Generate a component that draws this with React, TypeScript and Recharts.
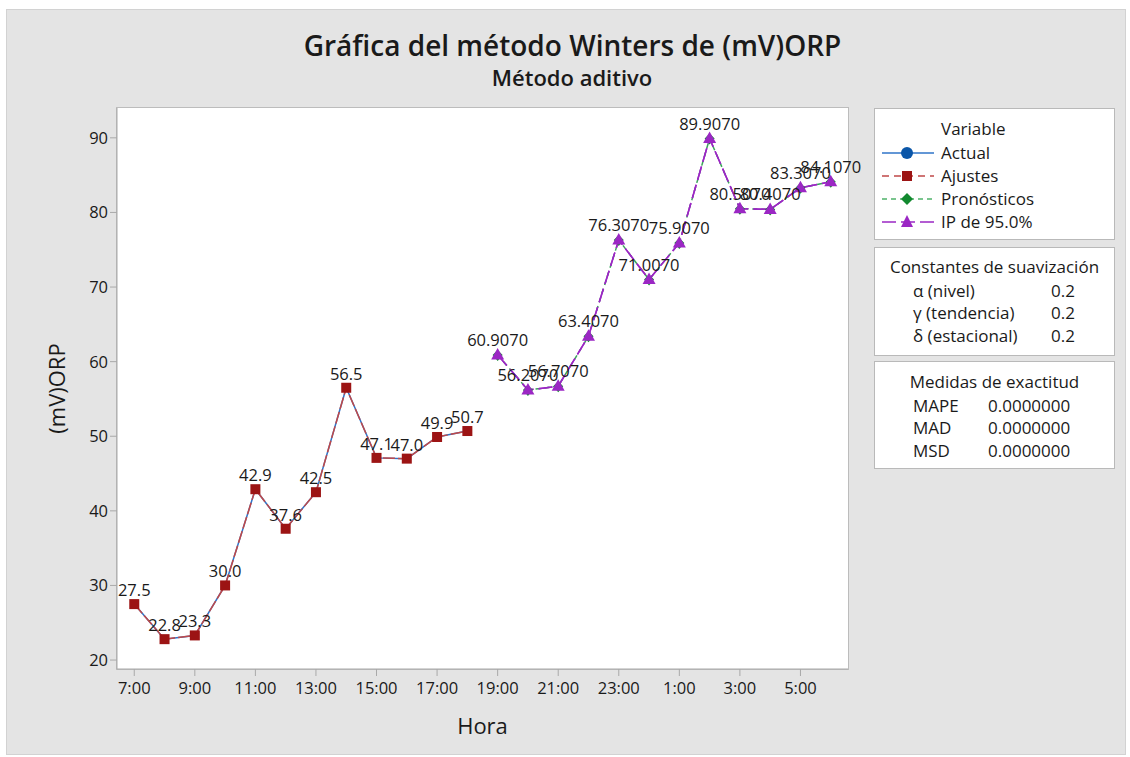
import { LineChart, Line, XAxis, YAxis, LabelList, Label } from 'recharts';

const hours = [
  '7:00', '8:00', '9:00', '10:00', '11:00', '12:00', '13:00', '14:00', '15:00', '16:00', '17:00', '18:00',
  '19:00', '20:00', '21:00', '22:00', '23:00', '0:00', '1:00', '2:00', '3:00', '4:00', '5:00', '6:00',
];
const actual = [27.5, 22.8, 23.3, 30.0, 42.9, 37.6, 42.5, 56.5, 47.1, 47.0, 49.9, 50.7];
const ajustes = [27.5, 22.8, 23.3, 30.0, 42.9, 37.6, 42.5, 56.5, 47.1, 47.0, 49.9, 50.7];
const pronosticos = [60.907, 56.207, 56.707, 63.407, 76.307, 71.007, 75.907, 89.907, 80.507, 80.407, 83.307, 84.107];
const ipLower = [60.907, 56.207, 56.707, 63.407, 76.307, 71.007, 75.907, 89.907, 80.507, 80.407, 83.307, 84.107];
const ipUpper = [60.907, 56.207, 56.707, 63.407, 76.307, 71.007, 75.907, 89.907, 80.507, 80.407, 83.307, 84.107];
const xTicks = [0, 2, 4, 6, 8, 10, 12, 14, 16, 18, 20, 22];
const yTicks = [20, 30, 40, 50, 60, 70, 80, 90];

const nFit = actual.length;
const data = hours.map((h, i) => ({
  i,
  hora: h,
  actual: i < nFit ? actual[i] : undefined,
  ajustes: i < nFit ? ajustes[i] : undefined,
  pronosticos: i >= nFit ? pronosticos[i - nFit] : undefined,
  ipLower: i >= nFit ? ipLower[i - nFit] : undefined,
  ipUpper: i >= nFit ? ipUpper[i - nFit] : undefined,
}));

const FONT = '"Open Sans", "Noto Sans", sans-serif';
const TEXT = '#1a1a1a';
const AXIS = '#a9a9a9';
const BLUE = '#2f74c8';
const RED = '#9c1414';
const RED_LINE = '#c04848';
const GREEN = '#12892f';
const PURPLE = '#9b27c4';

const SquareDot = (p: any) => {
  if (p.cy == null || p.value == null) return <g key={p.index} />;
  return <rect key={p.index} x={p.cx - 5} y={p.cy - 5} width={10} height={10} fill={RED} />;
};
const DiamondDot = (p: any) => {
  if (p.cy == null || p.value == null) return <g key={p.index} />;
  const { cx, cy } = p;
  return <polygon key={p.index} points={`${cx},${cy - 5} ${cx + 5},${cy} ${cx},${cy + 6} ${cx - 5},${cy}`} fill={GREEN} />;
};
const TriangleDot = (p: any) => {
  if (p.cy == null || p.value == null) return <g key={p.index} />;
  const { cx, cy } = p;
  return <polygon key={p.index} points={`${cx},${cy - 7} ${cx - 6.5},${cy + 4.5} ${cx + 6.5},${cy + 4.5}`} fill={PURPLE} />;
};

const fmt = (d: number) => (v: any) => (v == null || v === '' ? '' : Number(v).toFixed(d));

const legendRows = [
  { name: 'Actual', color: BLUE, dash: undefined, mark: 'circle' },
  { name: 'Ajustes', color: RED_LINE, dash: '7 5', mark: 'square' },
  { name: 'Pronósticos', color: '#4fb36a', dash: '5 4', mark: 'diamond' },
  { name: 'IP de 95.0%', color: PURPLE, dash: '14 5', mark: 'triangle' },
];

const LegendMark = ({ row }: { row: any }) => (
  <svg width={52} height={14} style={{ position: 'absolute', left: 7, top: -7 }}>
    <line x1={0} y1={7} x2={52} y2={7} stroke={row.color} strokeWidth={1.5} strokeDasharray={row.dash} />
    {row.mark === 'circle' && <circle cx={25} cy={7} r={6} fill="#0b56a8" />}
    {row.mark === 'square' && <rect x={20} y={2} width={10} height={10} fill={RED} />}
    {row.mark === 'diamond' && <polygon points="25,1 31,7 25,13 19,7" fill={GREEN} />}
    {row.mark === 'triangle' && <polygon points="25,0 19,12 31,12" fill={PURPLE} />}
  </svg>
);

const boxStyle: any = {
  position: 'absolute',
  left: 874,
  width: 239,
  background: '#fff',
  border: '1px solid #b9b9b9',
  fontFamily: FONT,
  fontSize: 17,
  color: TEXT,
};
const txt = (left: number, top: number, extra: any = {}): any => ({
  position: 'absolute',
  left,
  top,
  transform: 'translateY(-50%)',
  whiteSpace: 'nowrap',
  lineHeight: '20px',
  ...extra,
});

export default function App() {
  return (
    <div style={{ position: 'absolute', left: 0, top: 0, width: 1130, height: 757, background: '#fff' }}>
      <div style={{ position: 'absolute', left: 6, top: 9, width: 1118, height: 744, background: '#e4e4e4', border: '1px solid #d2d2d2' }} />
      <div style={{ position: 'absolute', left: 116, top: 107, width: 731, height: 561, background: '#fff', border: '1px solid #bcbcbc' }} />

      <div style={{ position: 'absolute', left: 0, width: 1145, top: 45, transform: 'translateY(-50%)', textAlign: 'center', fontFamily: FONT, fontSize: 28, fontWeight: 600, color: TEXT, whiteSpace: 'nowrap' }}>
        Gráfica del método Winters de (mV)ORP
      </div>
      <div style={{ position: 'absolute', left: 0, width: 1144, top: 77, transform: 'translateY(-50%)', textAlign: 'center', fontFamily: FONT, fontSize: 22, fontWeight: 600, color: TEXT }}>
        Método aditivo
      </div>

      <div style={{ position: 'absolute', left: 0, top: 0 }}>
        <LineChart width={1130} height={757} data={data} margin={{ top: 108, right: 282, left: 57, bottom: 58 }}>
          <XAxis
            dataKey="i"
            type="number"
            domain={[-0.57, 23.57]}
            ticks={xTicks}
            tickFormatter={(v: number) => hours[v]}
            allowDataOverflow
            height={30}
            stroke={AXIS}
            tickSize={7}
            tickMargin={6}
            tick={{ fill: TEXT, fontSize: 16.5, fontFamily: FONT }}
          >
            <Label value="Hora" position="bottom" offset={19} style={{ fill: TEXT, fontSize: 22, fontFamily: FONT }} />
          </XAxis>
          <YAxis
            type="number"
            domain={[18.8, 94]}
            ticks={yTicks}
            allowDataOverflow
            width={60}
            stroke={AXIS}
            tickSize={7}
            tick={{ fill: TEXT, fontSize: 16.5, fontFamily: FONT }}
          >
            <Label value="(mV)ORP" angle={-90} position="insideLeft" offset={0} style={{ fill: TEXT, fontSize: 22, fontFamily: FONT, textAnchor: 'middle' }} />
          </YAxis>

          <Line dataKey="actual" stroke={BLUE} strokeWidth={1.5} dot={false} isAnimationActive={false} />
          <Line dataKey="ajustes" stroke={RED_LINE} strokeWidth={1.5} strokeDasharray="12 3" dot={SquareDot} activeDot={false} isAnimationActive={false}>
            <LabelList dataKey="ajustes" position="top" offset={8} formatter={fmt(1)} style={{ fill: TEXT, fontSize: 16.5, fontFamily: FONT }} />
          </Line>
          <Line dataKey="pronosticos" stroke="#3aa55a" strokeWidth={1.5} strokeDasharray="5 4" dot={DiamondDot} activeDot={false} isAnimationActive={false} />
          <Line dataKey="ipLower" stroke={PURPLE} strokeWidth={1.5} strokeDasharray="14 5" dot={false} activeDot={false} isAnimationActive={false} />
          <Line dataKey="ipUpper" stroke={PURPLE} strokeWidth={1.5} strokeDasharray="14 5" dot={TriangleDot} activeDot={false} isAnimationActive={false}>
            <LabelList dataKey="ipUpper" position="top" offset={9} formatter={fmt(4)} style={{ fill: TEXT, fontSize: 16.5, fontFamily: FONT }} />
          </Line>
        </LineChart>
      </div>

      <div style={{ ...boxStyle, top: 108, height: 130 }}>
        <div style={txt(66, 20)}>Variable</div>
        {legendRows.map((r, k) => (
          <div key={r.name} style={{ position: 'absolute', left: 0, top: 44 + k * 23 }}>
            <LegendMark row={r} />
            <div style={txt(66, 0)}>{r.name}</div>
          </div>
        ))}
      </div>

      <div style={{ ...boxStyle, top: 247, height: 107 }}>
        <div style={txt(0, 19, { width: 239, textAlign: 'center' })}>Constantes de suavización</div>
        <div style={txt(38, 43)}>α (nivel)</div>
        <div style={txt(176, 43)}>0.2</div>
        <div style={txt(38, 65)}>γ (tendencia)</div>
        <div style={txt(176, 65)}>0.2</div>
        <div style={txt(38, 88)}>δ (estacional)</div>
        <div style={txt(176, 88)}>0.2</div>
      </div>

      <div style={{ ...boxStyle, top: 361, height: 106 }}>
        <div style={txt(0, 20, { width: 239, textAlign: 'center' })}>Medidas de exactitud</div>
        <div style={txt(38, 44)}>MAPE</div>
        <div style={txt(113, 44)}>0.0000000</div>
        <div style={txt(38, 66)}>MAD</div>
        <div style={txt(113, 66)}>0.0000000</div>
        <div style={txt(38, 89)}>MSD</div>
        <div style={txt(113, 89)}>0.0000000</div>
      </div>
    </div>
  );
}
